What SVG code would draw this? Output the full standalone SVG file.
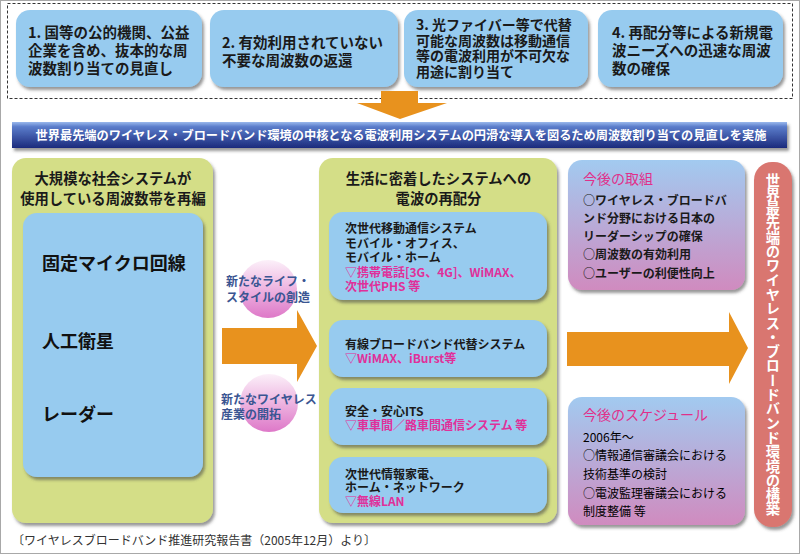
<svg xmlns="http://www.w3.org/2000/svg" width="800" height="554" viewBox="0 0 800 554">
<style>
text{font-family:"Noto Sans CJK JP","Noto Sans",sans-serif;dominant-baseline:central}
.tb{font-size:14.5px;font-weight:bold;fill:#1a1a1a}
.tb3{font-size:14px;font-weight:bold;fill:#1a1a1a}
.hd{font-size:14.3px;font-weight:bold;fill:#1a1a1a;text-anchor:middle}
.big{font-size:18px;font-weight:bold;fill:#111}
.s{font-size:12px;font-weight:bold;fill:#1a1a1a}
.p{font-size:12px;font-weight:bold;fill:#e0309a}
.c{font-size:12px;font-weight:bold;fill:#3a5592}
.rt{font-size:14px;fill:#e0308a}
.rb{font-size:12px;font-weight:bold;fill:#1a1a1a}
.rn{font-size:12px;fill:#000}
.blue{fill:#97cbef}
.green{fill:#d4de87}
.arr{fill:#e8921e}
</style>
<defs>
<filter id="sh" x="-10%" y="-10%" width="130%" height="130%">
<feDropShadow dx="2" dy="3" stdDeviation="1.5" flood-color="#444" flood-opacity="0.55"/>
</filter>
<linearGradient id="bn" x1="0" y1="0" x2="0" y2="1">
<stop offset="0" stop-color="#9ab8ec"/>
<stop offset="0.18" stop-color="#5b7dcb"/>
<stop offset="1" stop-color="#1b2a7c"/>
</linearGradient>
<linearGradient id="rg" x1="0" y1="0" x2="0" y2="1">
<stop offset="0" stop-color="#a2caf0"/>
<stop offset="1" stop-color="#d08bbf"/>
</linearGradient>
<linearGradient id="cg" x1="0" y1="0" x2="0" y2="1">
<stop offset="0" stop-color="#fcf0f9"/>
<stop offset="1" stop-color="#de78c8"/>
</linearGradient>
</defs>
<rect x="0.5" y="0.5" width="799" height="553" fill="#fff" stroke="#a8a8a8"/>

<g id="top-frame">
<rect x="7.5" y="3.5" width="785" height="95" fill="none" stroke="#333" stroke-dasharray="3,2"/>
</g>
<g id="box1">
<rect x="16" y="10" width="186" height="77" rx="14" class="blue" filter="url(#sh)"/>
<text class="tb" x="28" y="31">1. 国等の公的機関、公益</text>
<text class="tb" x="28" y="49">企業を含め、抜本的な周</text>
<text class="tb" x="28" y="67">波数割り当ての見直し</text>
</g>
<g id="box2">
<rect x="210" y="10" width="188" height="77" rx="14" class="blue" filter="url(#sh)"/>
<text class="tb" x="222" y="41">2. 有効利用されていない</text>
<text class="tb" x="222" y="59">不要な周波数の返還</text>
</g>
<g id="box3">
<rect x="404" y="10" width="184" height="77" rx="14" class="blue" filter="url(#sh)"/>
<text class="tb3" x="416" y="24">3. 光ファイバー等で代替</text>
<text class="tb3" x="416" y="39.5">可能な周波数は移動通信</text>
<text class="tb3" x="416" y="55">等の電波利用が不可欠な</text>
<text class="tb3" x="416" y="70.5">用途に割り当て</text>
</g>
<g id="box4">
<rect x="598" y="10" width="185" height="77" rx="14" class="blue" filter="url(#sh)"/>
<text class="tb" x="612" y="31">4. 再配分等による新規電</text>
<text class="tb" x="612" y="49">波ニーズへの迅速な周波</text>
<text class="tb" x="612" y="67.5">数の確保</text>
</g>

<g id="connectors">
<polygon class="arr" points="381,91 418,91 418,103 447,103 400,119 357,103 381,103"/>
<polygon class="arr" points="222,328 297,328 297,310 317,346 297,382 297,364 222,364"/>
<polygon class="arr" points="567,332 729,332 729,312 748,348 729,384 729,366 567,366"/>
</g>

<g id="banner">
<rect x="12" y="122" width="775" height="26" fill="url(#bn)" filter="url(#sh)"/>
<text x="401" y="135" text-anchor="middle" font-size="12.2" font-weight="bold" fill="#fff">世界最先端のワイヤレス・ブロードバンド環境の中核となる電波利用システムの円滑な導入を図るため周波数割り当ての見直しを実施</text>
</g>

<g id="left-panel">
<rect x="12" y="158" width="201" height="365" rx="14" class="green" filter="url(#sh)"/>
<text class="hd" x="113" y="177">大規模な社会システムが</text>
<text class="hd" x="113" y="197">使用している周波数帯を再編</text>
<rect x="23" y="213" width="180" height="264" rx="14" class="blue" filter="url(#sh)"/>
<text class="big" x="42" y="262">固定マイクロ回線</text>
<text class="big" x="42" y="340">人工衛星</text>
<text class="big" x="42" y="413">レーダー</text>
</g>

<g id="circle1">
<circle cx="268" cy="289" r="29" fill="url(#cg)"/>
<text class="c" x="226" y="280">新たなライフ・</text>
<text class="c" x="226" y="296">スタイルの創造</text>
</g>
<g id="circle2">
<circle cx="269" cy="403" r="29" fill="url(#cg)"/>
<text class="c" x="221" y="398">新たなワイヤレス</text>
<text class="c" x="221" y="413">産業の開拓</text>
</g>

<g id="middle-panel">
<rect x="319" y="158" width="238" height="365" rx="14" class="green" filter="url(#sh)"/>
<text class="hd" x="438.5" y="177">生活に密着したシステムへの</text>
<text class="hd" x="438.5" y="197">電波の再配分</text>
</g>
<g id="sub1">
<rect x="329" y="212" width="218" height="88" rx="14" class="blue" filter="url(#sh)"/>
<text class="s" x="345" y="227">次世代移動通信システム</text>
<text class="s" x="345" y="242">モバイル・オフィス、</text>
<text class="s" x="345" y="256">モバイル・ホーム</text>
<text class="p" x="345" y="271">▽携帯電話[3G、4G]、WiMAX、</text>
<text class="p" x="345" y="285">次世代PHS 等</text>
</g>
<g id="sub2">
<rect x="329" y="320" width="218" height="57" rx="14" class="blue" filter="url(#sh)"/>
<text class="s" x="345" y="343">有線ブロードバンド代替システム</text>
<text class="p" x="345" y="357">▽WiMAX、iBurst等</text>
</g>
<g id="sub3">
<rect x="329" y="388" width="218" height="57" rx="14" class="blue" filter="url(#sh)"/>
<text class="s" x="345" y="410">安全・安心ITS</text>
<text class="p" x="345" y="424">▽車車間／路車間通信システム 等</text>
</g>
<g id="sub4">
<rect x="329" y="457" width="218" height="56" rx="14" class="blue" filter="url(#sh)"/>
<text class="s" x="345" y="473">次世代情報家電、</text>
<text class="s" x="345" y="486">ホーム・ネットワーク</text>
<text class="p" x="345" y="500">▽無線LAN</text>
</g>

<g id="future-actions">
<rect x="568" y="160" width="177" height="130" rx="14" fill="url(#rg)" filter="url(#sh)"/>
<text class="rt" x="583" y="178">今後の取組</text>
<text class="rb" x="583" y="199">○ワイヤレス・ブロードバ</text>
<text class="rb" x="583" y="217">ンド分野における日本の</text>
<text class="rb" x="583" y="235">リーダーシップの確保</text>
<text class="rb" x="583" y="253">○周波数の有効利用</text>
<text class="rb" x="583" y="272">○ユーザーの利便性向上</text>
</g>
<g id="future-schedule">
<rect x="568" y="397" width="177" height="128" rx="14" fill="url(#rg)" filter="url(#sh)"/>
<text class="rt" x="583" y="414">今後のスケジュール</text>
<text class="rn" x="583" y="436">2006年～</text>
<text class="rn" x="583" y="454">○情報通信審議会における</text>
<text class="rn" x="583" y="473">技術基準の検討</text>
<text class="rn" x="583" y="492">○電波監理審議会における</text>
<text class="rn" x="583" y="510">制度整備 等</text>
</g>

<g id="goal">
<rect x="754" y="162" width="38" height="365" rx="18" fill="#d97670" filter="url(#sh)"/>
<text x="773" y="173" writing-mode="vertical-rl" font-size="14.3" font-weight="bold" fill="#fff" style="dominant-baseline:auto">世界最先端のワイヤレス・ブロードバンド環境の構築</text>
</g>

<text x="12" y="539" font-size="12" fill="#333">〔ワイヤレスブロードバンド推進研究報告書（2005年12月）より〕</text>
</svg>
